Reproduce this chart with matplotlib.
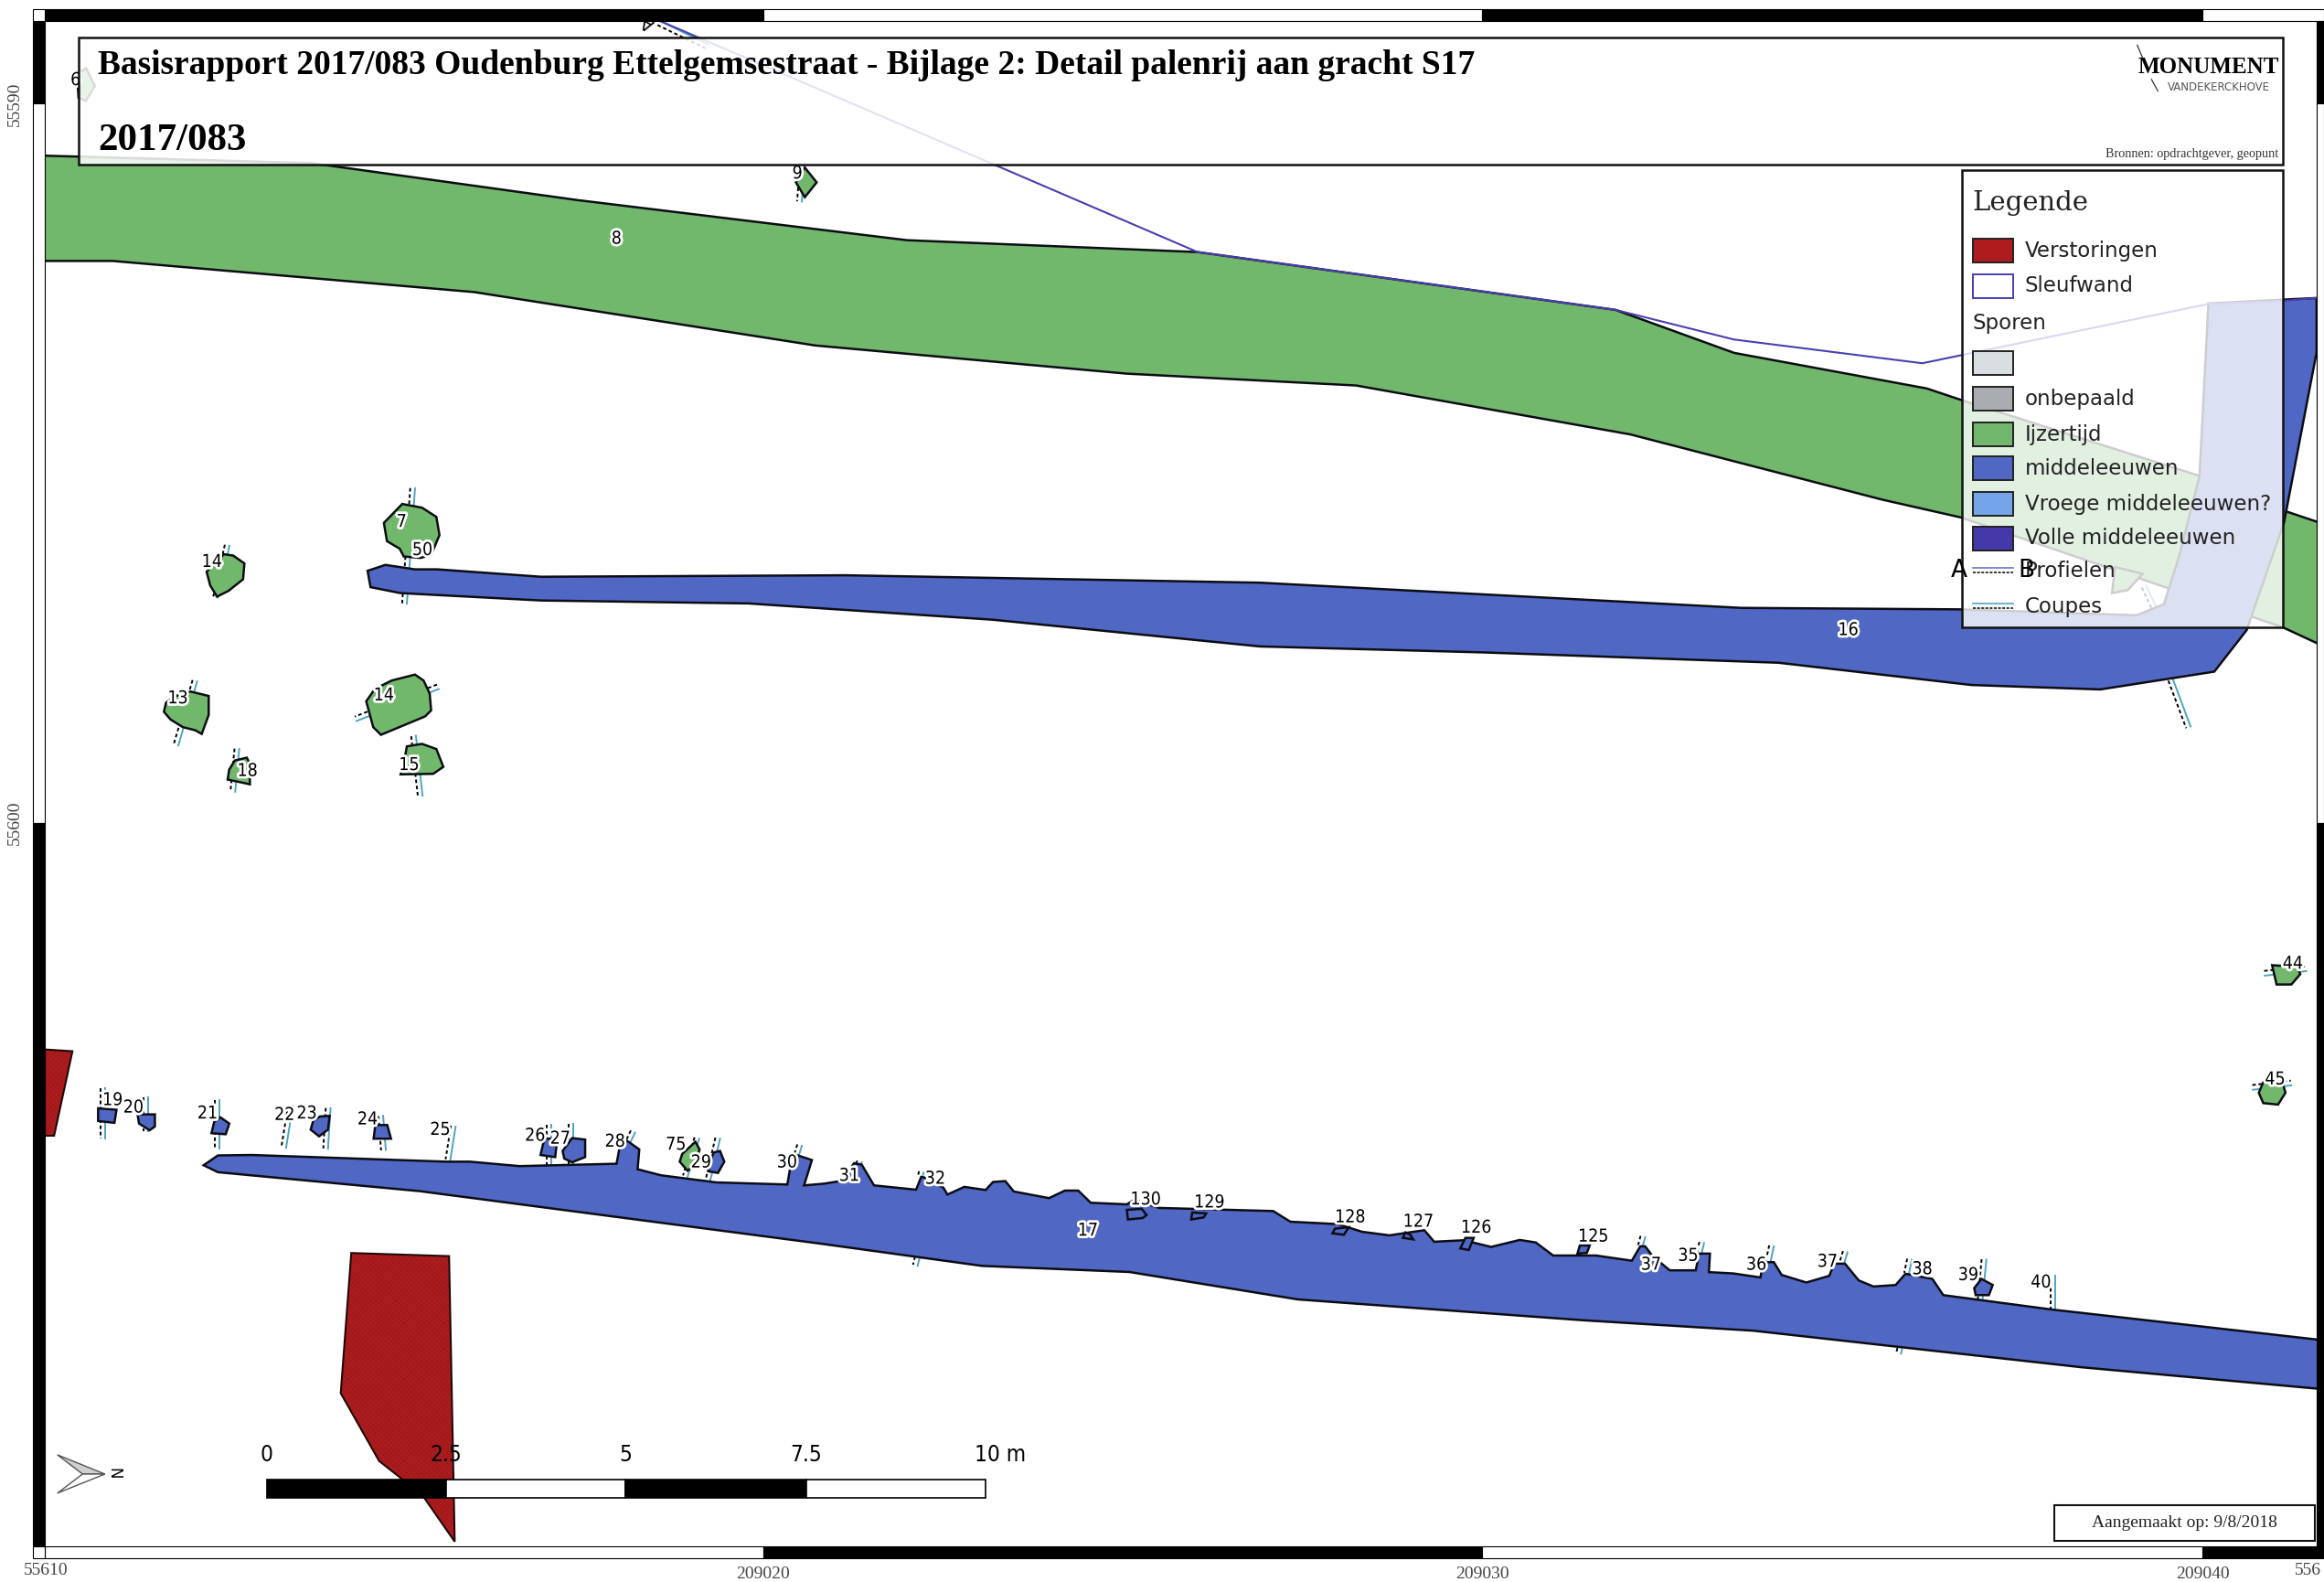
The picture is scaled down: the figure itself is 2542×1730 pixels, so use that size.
"""Bijlage 2: Detail palenrij aan gracht S17 - site plan redrawn in picture units."""
import matplotlib
matplotlib.use("Agg")
import matplotlib.pyplot as plt
import matplotlib.patheffects as pe
from matplotlib.patches import Polygon, Rectangle

GREEN = "#72b86c"
BLUE = "#5068c4"
RED = "#ae1c1e"

# ---------------------------------------------------------------------------
# Features (x, y in picture units)
# ---------------------------------------------------------------------------
green_ditch = [(30, 105), (210, 110), (390, 135), (612, 162), (808, 170), (1090, 209), (1170, 238),
               (1300, 262), (1323, 269.7), (1484, 321), (1541.5, 344.6), (1568, 353.5), (1568, 436),
               (1540, 423), (1323, 349), (1270, 337), (1100, 293), (915, 260), (760, 252), (550, 233),
               (320, 197), (76, 176), (30, 176)]
blue_ditch_16 = [(248, 385), (260, 381), (280, 384), (295, 384), (365, 389), (570, 388), (850, 393),
                 (1175, 410), (1324, 411), (1441.5, 415), (1460, 407.5), (1470, 376), (1484, 321),
                 (1490, 204.6), (1563, 201), (1563, 237.6), (1541, 352.5), (1515.8, 425), (1494, 453),
                 (1417, 465), (1330, 462), (1200, 447), (1000, 440), (850, 436), (670, 418), (505, 407),
                 (365, 405), (270, 400), (250, 396)]
blue_ditch_17 = [(137.4, 785.9), (147, 779.3), (170, 779), (301, 783.5), (317, 783.5), (350.6, 786.5),
                 (416, 784.9), (417.8, 775.2), (423.2, 769.5), (431.3, 775.2), (430.2, 788.6),
                 (446, 792.7), (483.4, 797.5), (531.2, 798.9), (533, 788.6), (536.5, 778.7),
                 (547.8, 782.4), (542.5, 799.5), (556.3, 798.3), (568, 796.4), (576.3, 784.5),
                 (581.4, 785.5), (589.7, 799.5), (618.1, 802.4), (621.5, 793.8), (623.8, 794.2),
                 (636.5, 801), (639.2, 805.7), (650.6, 800.5), (665, 802.6), (670, 797.2),
                 (678.3, 796.6), (684, 803.6), (707.8, 808.1), (718.5, 803), (727.5, 803),
                 (735.9, 811.2), (760.3, 812.3), (765.3, 809.2), (782, 814.7), (859, 816.8),
                 (870.6, 824), (902.4, 825.6), (919.1, 830.8), (937.5, 833.2), (961, 829.7),
                 (967.6, 837.5), (987.7, 836.5), (1006, 841), (1025.4, 836.3), (1036.2, 838),
                 (1047.9, 846.8), (1076.9, 846.8), (1101, 850.3), (1106.7, 840.6), (1110, 840.6),
                 (1115, 847.2), (1126.6, 856.8), (1144.1, 856.8), (1146.4, 845.5), (1153.7, 845.5),
                 (1153, 858), (1169.6, 858.9), (1187.8, 861.6), (1189.5, 851.3), (1196.8, 851.3),
                 (1202.1, 859.9), (1218.7, 865), (1234.2, 860.5), (1237.5, 852.3), (1244.8, 852.3),
                 (1254.1, 863.6), (1264, 867.7), (1279, 866.7), (1285.6, 859.1), (1303.8, 862.6),
                 (1311.1, 873.5), (1383.3, 883.1), (1568, 904), (1568, 937), (1404.8, 922.2),
                 (1182.9, 897.5), (1067.2, 890.4), (875.6, 876.4), (761.9, 857.9), (662.6, 853.8),
                 (555.2, 839), (283.3, 803.4), (147, 790.6)]

green_pits = [
    [(151.1, 373.8), (157.3, 374.7), (164.9, 380), (164, 390.7), (154.2, 398.5), (146.4, 402.4), (141.8, 394.8), (139.4, 385.6)],
    [(271.4, 339.9), (284.7, 342.4), (294.4, 348.6), (296.5, 360.9), (290.9, 374.3), (283.7, 376.3), (272.4, 375.3), (269.7, 370.1), (261.1, 365), (259, 352.7)],
    [(128.5, 466.4), (140.8, 469.4), (140.8, 482.2), (136.1, 495), (131.6, 492.5), (123.3, 490.4), (115.1, 485.3), (110.6, 480.1), (112, 474), (117.2, 469.9)],
    [(158.3, 513), (166.5, 511), (168.6, 515), (168.6, 529), (161.4, 527.4), (153.6, 525.8), (154.6, 519.2)],
    [(280, 455), (285.8, 459), (289.9, 467.8), (290.9, 479.1), (286.8, 483.2), (257, 495.6), (251.8, 490.4), (247.1, 473), (252.9, 464.7), (264.2, 459)],
    [(274.5, 503.4), (284.7, 501.7), (294.4, 505.2), (299.1, 517.2), (292.3, 521.9), (270.3, 522.3), (273, 512)],
    [(543, 113), (551, 123), (543, 133), (537, 123)],
    [(469.2, 770.1), (472, 775.2), (469.2, 785.5), (463.9, 789.6), (458.6, 783.5), (460.3, 778.3)],
    [(1533, 651), (1550, 652), (1552, 657), (1546, 664), (1536, 664)],
    [(1527, 730), (1540, 730), (1542, 737), (1537, 745), (1527, 744), (1524, 737)],
    [(52, 50), (58, 46), (64, 58), (58, 68), (53, 66)],
    [(1427, 382.4), (1445.6, 387), (1435.6, 398), (1425, 400)],
]
blue_pits = [
    [(66.2, 747.5), (78.6, 748.5), (77.2, 757.3), (66.2, 756.1)],
    [(92.8, 751.6), (104.5, 751.6), (104.5, 759.8), (100.9, 762.3), (93.8, 757.8)],
    [(148.7, 753.6), (154.7, 757.8), (152.3, 765), (142.7, 764.3), (144.5, 756.7)],
    [(216, 753), (222.4, 752.6), (221.3, 761.9), (215.3, 766.4), (209.6, 761.9), (211.4, 755.7)],
    [(253.2, 758.8), (261.3, 758.8), (263.8, 768), (252.1, 768)],
    [(368.3, 768), (376, 768), (374.6, 780.4), (364.7, 779), (366.5, 771.1)],
    [(386, 767.6), (394.8, 768.6), (394.8, 780.4), (386, 783.9), (380.7, 781.4), (379.6, 776.3)],
    [(481.6, 777.3), (485.8, 776.3), (488.7, 783.5), (484.4, 791.1), (478, 790), (479.8, 781.4)],
    [(760.3, 816), (770.3, 815.3), (773.6, 819.5), (771, 821.5), (761, 822.5)],
    [(804.4, 817.8), (813.8, 818.4), (812.1, 821.1), (803.7, 822.5)],
    [(900.7, 828.7), (910, 827.7), (906.7, 832.8), (899, 831.8)],
    [(948.2, 831.2), (951.5, 832.8), (953.5, 835.9), (946.5, 834.9)],
    [(988.7, 834.9), (994.3, 834.9), (991, 843.1), (985.3, 842)],
    [(1065.9, 840), (1072.6, 840), (1070.6, 845.1), (1064.3, 845.5)],
    [(1336.9, 862.6), (1344.5, 866.7), (1341.9, 873.5), (1333, 873.5), (1332, 868.8)],
]
red_areas = [
    [(30, 707.8), (48.9, 709), (36.5, 766), (30, 766)],
    [(237, 845.1), (303, 847.2), (306.8, 1039.8), (286.5, 1010.6), (271.4, 997.7), (255.8, 985.4), (229.9, 939.7)],
]
trench_wall = [(445, 14), (808, 170), (1090, 209), (1170, 229), (1297, 245), (1490, 205), (1540, 203), (1563, 201)]

# section lines drawn beside every pit
sections = [
    ((70.8, 733.7), (70.8, 768)), ((100.2, 739.9), (100.2, 762.9)), ((148, 741.7), (148, 774.8)),
    ((197.6, 745.8), (193, 774.2)), ((223, 747.5), (221.3, 774.8)), ((258.5, 752.6), (260.3, 775.6)),
    ((307.4, 759.8), (303.8, 782.4)), ((371.8, 758.4), (371.8, 785.5)), ((387, 757.8), (387, 785.5)),
    ((428.5, 763.9), (425, 771.1)), ((471.7, 768), (463.9, 793.7)), ((485.8, 768), (479.1, 796.8)),
    ((541, 772.8), (539, 779.3)), ((581.4, 783.9), (580.4, 786.6)), ((623.2, 790.7), (622.2, 794.8)),
    ((620.5, 848.2), (619.1, 853.8)), ((1110, 834.4), (1108.3, 840.6)), ((1149.7, 838.3), (1148.1, 845.5)),
    ((1196.8, 840.6), (1194.5, 851.3)), ((1246.5, 844.7), (1244.2, 852.3)), ((1289.9, 849.6), (1287.9, 859.1)),
    ((1340.2, 849.6), (1337.6, 877)), ((1386.6, 860.5), (1386.6, 883.1)), ((1283.3, 909.9), (1282.6, 913)),
    ((154.8, 368.1), (147, 403)), ((280, 329.4), (274.5, 407.2)), ((133, 459.6), (120.3, 502.8)),
    ((161.4, 505.2), (158.7, 534)), ((296, 464.7), (240.5, 486.3)), ((280.6, 496.2), (285.1, 536.7)),
    ((543, 110), (541, 136)), ((1528, 658), (1556, 655)), ((1520, 735), (1546, 732)),
    ((1466, 458), (1478, 490)), ((1448, 395), (1456, 412)), ((445, 14), (478, 30)),
]

pit_labels = ["6", "9", "8", "7", "50", "14", "13", "14", "15", "18", "16", "17", "19", "20", "21", "22",
              "23", "24", "25", "26", "27", "28", "75", "29", "30", "31", "32", "130", "129", "128",
              "127", "126", "125", "37", "35", "36", "37", "38", "39", "40", "44", "45"]
pit_label_xy = [(51, 54), (538, 117), (416, 161), (271, 352), (285, 371), (143, 379), (120, 471), (259, 469),
                (276, 516), (167, 520), (1247, 425), (734, 830), (76, 742), (90, 747), (140, 751), (192, 752),
                (207, 751), (248, 755), (297, 762), (361, 766), (378, 768), (415, 770), (456, 772), (473, 784),
                (531, 784), (573, 793), (631, 795), (773, 809), (816, 811), (911, 821), (957, 824), (996, 828),
                (1075, 834), (1114, 853), (1139, 847), (1185, 853), (1233, 851), (1297, 856), (1328, 860),
                (1377, 865), (1547, 650), (1535, 728)]

legend_labels = ["Verstoringen", "Sleufwand", "", "onbepaald", "Ijzertijd", "middeleeuwen",
                 "Vroege middeleeuwen?", "Volle middeleeuwen"]
legend_colors = [RED, "white", "#d9dfe0", "#a9adb2", GREEN, BLUE, "#74a5e8", "#4538a8"]
legend_y = [169, 193, 245, 269, 293, 316, 340, 363]

scale_tick_labels = ["0", "2.5", "5", "7.5", "10 m"]
scale_x = [180, 301, 422, 544, 665]

grid_x = [30, 515, 1000, 1486, 1568]
grid_y = [14, 70, 555, 1043]
x_coord_labels = ["209020", "209030", "209040"]
x_coord_pos = [515, 1000, 1486]

# ---------------------------------------------------------------------------
# Drawing
# ---------------------------------------------------------------------------
matplotlib.rcParams["hatch.linewidth"] = 0.4

fig = plt.figure(figsize=(25.42, 17.30), dpi=100)
ax = fig.add_axes([0, 0, 1, 1])
ax.set_xlim(0, 1568)
ax.set_ylim(1067, 0)
ax.axis("off")


def draw_poly(points, color, z=3, lw=1.8):
    ax.add_patch(Polygon(points, closed=True, facecolor=color, edgecolor="#0c0c14", lw=lw, zorder=z))


def draw_section(p0, p1):
    dx, dy = p1[0] - p0[0], p1[1] - p0[1]
    length = (dx ** 2 + dy ** 2) ** 0.5
    nx, ny = -dy / length * 3.2, dx / length * 3.2
    if nx > 0:
        nx, ny = -nx, -ny
    ax.plot([p0[0], p1[0]], [p0[1], p1[1]], color="#4fa3c4", lw=1.4, zorder=2)
    ax.plot([p0[0] + nx, p1[0] + nx], [p0[1] + ny, p1[1] + ny], color="black", lw=1.4,
            ls=(0, (2, 1.5)), zorder=2)


draw_poly(green_ditch, GREEN, z=1.5)
for seg in sections:
    draw_section(*seg)
for pit in green_pits:
    draw_poly(pit, GREEN)
for pit in blue_pits:
    draw_poly(pit, BLUE, z=3.2)
draw_poly(blue_ditch_16, BLUE)
draw_poly(blue_ditch_17, BLUE, z=3)
for area in red_areas:
    ax.add_patch(Polygon(area, closed=True, facecolor=RED, edgecolor="#951a1c", lw=0, hatch="xxxxxx", zorder=3))
    ax.add_patch(Polygon(area, closed=True, facecolor="none", edgecolor="#200808", lw=1.5, zorder=3.1))
xs, ys = zip(*trench_wall)
ax.plot(xs, ys, color="#4a3fb0", lw=1.5, zorder=3.5)

halo = [pe.withStroke(linewidth=4, foreground="white")]
for txt, (x, y) in zip(pit_labels, pit_label_xy):
    ax.text(x, y, txt, fontsize=14, family="DejaVu Sans", stretch="condensed", ha="center", va="center",
            path_effects=halo, zorder=4)
ax.text(437, 15, "A", fontsize=14, rotation=150, ha="center", va="center", zorder=4)
ax.text(1322, 385, "A", fontsize=19, ha="center", va="center", zorder=9)
ax.text(1367, 385, "B", fontsize=19, ha="center", va="center", zorder=9)

# title block and legend are translucent, the map shows through
ax.add_patch(Rectangle((53, 25), 1487, 86, facecolor="white", edgecolor="none", alpha=0.85, zorder=5))
ax.add_patch(Rectangle((53, 25), 1487, 86, facecolor="none", edgecolor="#111111", lw=1.8, zorder=5.1))
ax.add_patch(Rectangle((1324, 115), 216, 308, facecolor="white", edgecolor="none", alpha=0.8, zorder=5))
ax.add_patch(Rectangle((1324, 115), 216, 308, facecolor="none", edgecolor="#111111", lw=1.8, zorder=5.1))

ax.text(66, 44, "Basisrapport 2017/083 Oudenburg Ettelgemsestraat - Bijlage 2: Detail palenrij aan gracht S17",
        family="Liberation Serif", weight="bold", fontsize=27, va="center", zorder=6)
ax.text(66, 95, "2017/083", family="Liberation Serif", weight="bold", fontsize=31, va="center", zorder=6)
ax.text(1490, 45.5, "MONUMENT", family="Liberation Serif", weight="bold", fontsize=18, ha="center", va="center", zorder=6)
ax.text(1497, 59, "VANDEKERCKHOVE", family="DejaVu Sans", fontsize=8.5, color="#555555", ha="center", va="center", zorder=6)
ax.plot([1442, 1445.6], [30.5, 39], color="#333333", lw=0.9, zorder=6)
ax.plot([1451.6, 1455.9], [53.5, 61.4], color="#333333", lw=0.9, zorder=6)
ax.text(1537, 104, "Bronnen: opdrachtgever, geopunt", family="Liberation Serif", fontsize=10.2, color="#333333",
        ha="right", va="center", zorder=6)

ax.text(1331, 137, "Legende", family="DejaVu Serif", fontsize=21, color="#222222", va="center", zorder=6)
ax.text(1331, 218, "Sporen", family="DejaVu Sans", fontsize=16.5, color="#222222", va="center", zorder=6)
for lab, col, y in zip(legend_labels, legend_colors, legend_y):
    edge = "#4a3fb0" if lab == "Sleufwand" else "#222222"
    ax.add_patch(Rectangle((1331, y - 8), 27, 16, facecolor=col, edgecolor=edge, lw=1.4, zorder=6))
    ax.text(1366, y, lab, family="DejaVu Sans", fontsize=16.5, color="#222222", va="center", zorder=6)
for lab, y, col in [("Profielen", 385, "#6a78c8"), ("Coupes", 409, "#4fa3c4")]:
    ax.plot([1331, 1358], [y - 2, y - 2], color=col, lw=1.2, zorder=6)
    ax.plot([1331, 1358], [y + 1, y + 1], color="black", lw=1.1, ls=(0, (2, 1)), zorder=6)
    ax.text(1366, y, lab, family="DejaVu Sans", fontsize=16.5, color="#222222", va="center", zorder=6)

# scale bar
for i in range(len(scale_x) - 1):
    col = "black" if i % 2 == 0 else "white"
    ax.add_patch(Rectangle((scale_x[i], 998), scale_x[i + 1] - scale_x[i], 12, facecolor=col, edgecolor="black",
                           lw=1.2, zorder=6))
for x, lab in zip(scale_x, scale_tick_labels):
    ax.text(x + (10 if lab == "10 m" else 0), 981, lab, family="DejaVu Sans", stretch="condensed", fontsize=17.5,
            ha="center", va="center", zorder=6)

# north arrow
ax.add_patch(Polygon([(38.7, 981.2), (70.8, 994.2), (55.7, 994.2)], facecolor="#cfcfcf", edgecolor="#555555", lw=1, zorder=6))
ax.add_patch(Polygon([(38.7, 1007.1), (70.8, 994.2), (55.7, 994.2)], facecolor="white", edgecolor="#555555", lw=1, zorder=6))
ax.text(76.5, 994, "N", fontsize=12, rotation=-90, ha="center", va="center", zorder=6)

# date box
ax.add_patch(Rectangle((1386, 1015), 176, 24, facecolor="white", edgecolor="#111111", lw=1.5, zorder=6))
ax.text(1474, 1027, "Aangemaakt op: 9/8/2018", family="Liberation Serif", fontsize=14, color="#222222",
        ha="center", va="center", zorder=7)

# grid frame, alternating black and white
ax.add_patch(Rectangle((0, 0), 22, 1067, facecolor="white", edgecolor="none", zorder=7))
ax.add_patch(Rectangle((0, 0), 1568, 6, facecolor="white", edgecolor="none", zorder=7))
ax.add_patch(Rectangle((0, 1051), 1568, 16, facecolor="white", edgecolor="none", zorder=7))
ax.add_patch(Rectangle((1563, 0), 5, 1067, facecolor="white", edgecolor="none", zorder=7))
for i in range(len(grid_x) - 1):
    top_col = "black" if i % 2 == 0 else "white"
    bot_col = "white" if i % 2 == 0 else "black"
    ax.add_patch(Rectangle((grid_x[i], 6), grid_x[i + 1] - grid_x[i], 8, facecolor=top_col, edgecolor="black", lw=0.8, zorder=8))
    ax.add_patch(Rectangle((grid_x[i], 1043), grid_x[i + 1] - grid_x[i], 8, facecolor=bot_col, edgecolor="black", lw=0.8, zorder=8))
for i in range(len(grid_y) - 1):
    col = "white" if i == 1 else "black"
    ax.add_patch(Rectangle((22, grid_y[i]), 8, grid_y[i + 1] - grid_y[i], facecolor=col, edgecolor="black", lw=0.8, zorder=8))
    ax.add_patch(Rectangle((1563, grid_y[i]), 5, grid_y[i + 1] - grid_y[i], facecolor=col, edgecolor="black", lw=0.8, zorder=8))
ax.add_patch(Rectangle((22, 6), 8, 8, facecolor="white", edgecolor="black", lw=0.8, zorder=8))
ax.add_patch(Rectangle((22, 1043), 8, 8, facecolor="white", edgecolor="black", lw=0.8, zorder=8))

coord_style = dict(family="Liberation Serif", fontsize=14, color="#444444", ha="center", va="center", zorder=9)
ax.text(10, 70, "55590", rotation=90, **coord_style)
ax.text(10, 555, "55600", rotation=90, **coord_style)
ax.text(31, 1059, "55610", **coord_style)
for x, lab in zip(x_coord_pos, x_coord_labels):
    ax.text(x, 1062, lab, **coord_style)
ax.text(1548, 1059, "556", family="Liberation Serif", fontsize=14, color="#444444", ha="left", va="center", zorder=9)

fig.savefig("out.png", dpi=100)
